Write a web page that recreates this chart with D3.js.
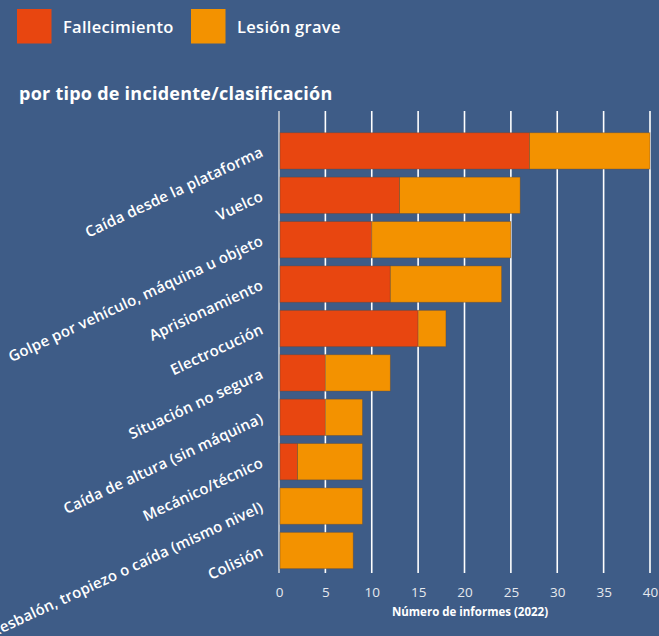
<!DOCTYPE html>
<html>
<head>
<meta charset="utf-8">
<script src="https://cdn.jsdelivr.net/npm/d3@7"></script>
<style>
  html, body { margin: 0; padding: 0; background: #3e5c87; }
  svg { display: block; }
  text { font-family: "Open Sans", Roboto, sans-serif; }
</style>
</head>
<body>
<svg id="chart" width="659" height="636"></svg>
<script>
// Incident types, top to bottom
const categories = [
  "Caída desde la plataforma",
  "Vuelco",
  "Golpe por vehículo, máquina u objeto",
  "Aprisionamiento",
  "Electrocución",
  "Situación no segura",
  "Caída de altura (sin máquina)",
  "Mecánico/técnico",
  "Resbalón, tropiezo o caída (mismo nivel)",
  "Colisión"
];
// Reports per classification
const fallecimiento = [27, 13, 10, 12, 15, 5, 5, 2, 0, 0];
const lesionGrave   = [13, 13, 15, 12, 3, 7, 4, 7, 9, 8];
const seriesNames = ["Fallecimiento", "Lesión grave"];
const seriesColors = ["#e84610", "#f39200"];
const xTicks = [0, 5, 10, 15, 20, 25, 30, 35, 40];

const svg = d3.select("#chart");

const rows = categories.map((c, i) => ({
  cat: c,
  "Fallecimiento": fallecimiento[i],
  "Lesión grave": lesionGrave[i]
}));
const stacked = d3.stack().keys(seriesNames)(rows);

const x = d3.scaleLinear().domain([0, 40]).range([279, 650]);
const y = d3.scaleBand().domain(categories).range([128.7, 572.7])
  .paddingInner(0.182).paddingOuter(0.091);

// Vertical gridlines
svg.append("g").selectAll("line").data(xTicks).join("line")
  .attr("x1", d => x(d)).attr("x2", d => x(d))
  .attr("y1", 111).attr("y2", 573)
  .attr("stroke", d => d === 0 ? "#c9cdd4" : "#ffffff")
  .attr("stroke-width", 1.6);

// Stacked bars
svg.append("g").selectAll("g").data(stacked).join("g")
  .attr("fill", (d, i) => seriesColors[i])
  .selectAll("rect").data(d => d.filter(s => s[1] > s[0])).join("rect")
  .attr("x", d => x(d[0]) + (d[0] === 0 ? 1 : 0))
  .attr("width", d => x(d[1]) - x(d[0]) - (d[0] === 0 ? 1 : 0))
  .attr("y", d => y(d.data.cat))
  .attr("height", y.bandwidth())
  .attr("stroke", "rgba(90,70,60,0.45)")
  .attr("stroke-width", 0.8);

// X axis tick labels
const xAxis = d3.axisBottom(x).tickValues(xTicks).tickSize(0).tickPadding(0);
const gx = svg.append("g").attr("transform", "translate(0,587)").call(xAxis);
gx.select(".domain").remove();
gx.selectAll("text")
  .attr("fill", "#e6e9ee")
  .attr("font-size", 13.5)
  .attr("dy", "0.71em")
  .style("font-family", "\"Open Sans\", sans-serif");

svg.append("text")
  .attr("x", 470).attr("y", 616)
  .attr("text-anchor", "middle")
  .attr("fill", "#ffffff")
  .attr("font-size", 11.5)
  .attr("font-weight", 700)
  .text("Número de informes (2022)");

// Category labels, rotated
const yAxis = d3.axisLeft(y).tickSize(0).tickPadding(0);
const gy = svg.append("g").attr("transform", "translate(262,0)").call(yAxis);
gy.select(".domain").remove();
gy.selectAll(".tick text")
  .attr("x", 0).attr("dy", "0.35em")
  .attr("transform", "rotate(-25)")
  .attr("text-anchor", "end")
  .attr("fill", "#ffffff")
  .attr("font-size", 15)
  .attr("font-weight", 600)
  .attr("letter-spacing", 0.2)
  .style("font-family", "\"Open Sans\", sans-serif");

// Title
svg.append("text")
  .attr("x", 19).attr("y", 100)
  .attr("fill", "#ffffff")
  .attr("font-size", 18)
  .attr("font-weight", 700)
  .attr("letter-spacing", 0.25)
  .text("por tipo de incidente/clasificación");

// Legend
const legend = svg.append("g");
const legendX = [17, 191];
seriesNames.forEach((name, i) => {
  legend.append("rect")
    .attr("x", legendX[i]).attr("y", 9)
    .attr("width", 34.5).attr("height", 34.5)
    .attr("fill", seriesColors[i]);
  legend.append("text")
    .attr("x", legendX[i] + 46).attr("y", 33)
    .attr("fill", "#ffffff")
    .attr("font-size", 16.5)
    .attr("font-weight", 600)
    .attr("letter-spacing", 0.3)
    .text(name);
});
</script>
</body>
</html>
